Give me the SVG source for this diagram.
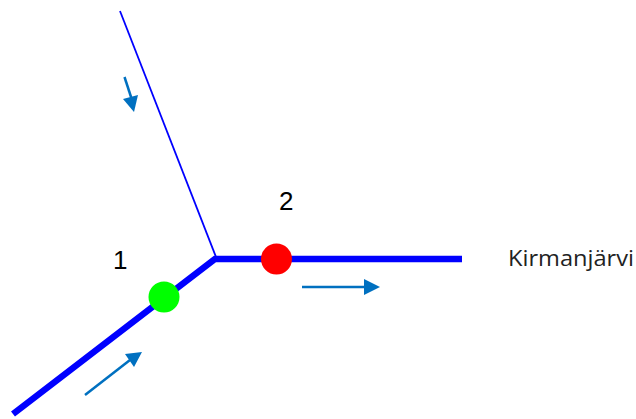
<svg xmlns="http://www.w3.org/2000/svg" width="636" height="419" viewBox="0 0 636 419">
<style>
.thick{fill:none;stroke:#0000ff;stroke-width:6.500}
.thin{fill:none;stroke:#0000ff;stroke-width:1.800}
.flow{stroke:#0070c0;stroke-width:2.500;fill:none}
.head{fill:#0070c0;stroke:none}
.lab{font-family:"Liberation Sans",Arial,sans-serif;font-size:26px;fill:#000}
.name{font-family:"Open Sans","DejaVu Sans",sans-serif;font-size:22px;fill:#222}
</style>
<rect width="636" height="419" fill="#fff"/>
<g id="connectors">
<path class="thin" d="M120 11L216 257"/>
<path class="thick" d="M13 414L215 259L462 259"/>
</g>
<g id="flows">
<path class="flow" d="M124.500 77L132 100"/><polygon class="head" points="123,99 138,95 134,112"/>
<path class="flow" d="M85 395L130 360"/><polygon class="head" points="125,354 142,352 134,367"/>
<path class="flow" d="M302 287L366 287"/><polygon class="head" points="364,279 380,287 364,295"/>
</g>
<g id="node-1"><circle cx="164" cy="297" r="15.500" fill="#00ff00"/><text class="lab" x="113" y="269">1</text></g>
<g id="node-2"><circle cx="276.500" cy="259" r="15.500" fill="#ff0000"/><text class="lab" x="279" y="210">2</text></g>
<g id="node-kirmanjarvi"><text class="name" x="508" y="266" textLength="126" lengthAdjust="spacingAndGlyphs">Kirmanjärvi</text></g>
</svg>
